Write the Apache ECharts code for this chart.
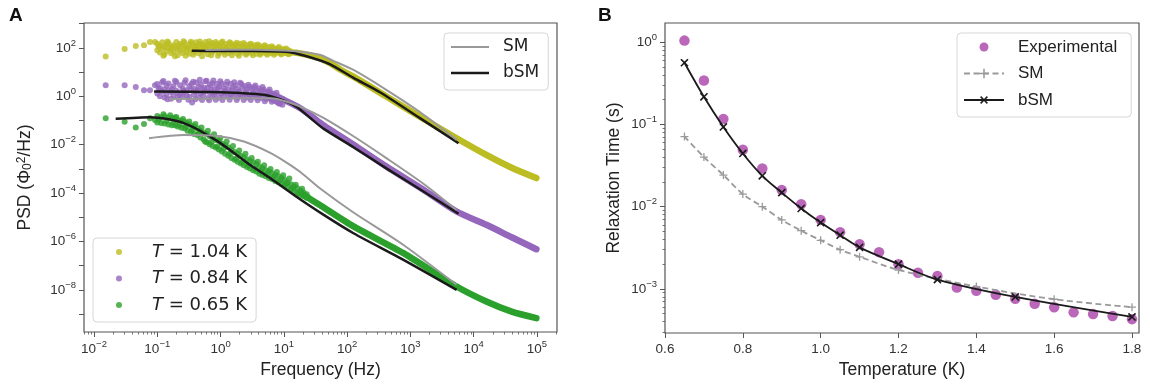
<!DOCTYPE html>
<html><head><meta charset="utf-8">
<script src="https://cdn.jsdelivr.net/npm/echarts@6/dist/echarts.min.js"></script>
<style>html,body{margin:0;padding:0;background:#fff}#c{width:1150px;height:385px}</style>
</head><body><div id="c"></div>
<script>
// ---------- Panel A data: [frequency (Hz), PSD (Phi0^2/Hz)] ----------
const yellowSparse = [[0.0153,44],[0.0305,91],[0.0457,120],[0.0617,129],[0.0767,177],[0.092,177]];
const yellowCloud = [[0.10,150],[0.10,80],[0.11,120],[0.11,65],[0.12,170],[0.12,95],[0.13,110],[0.13,55],[0.14,140],[0.14,75],[0.15,160],[0.15,100],[0.165,90],[0.165,60],[0.18,130],[0.18,70],[0.2,175],[0.2,105],[0.21,85],[0.21,50],[0.23,145],[0.23,78],[0.25,120],[0.25,62],[0.27,165],[0.27,92],[0.29,105],[0.29,70],[0.32,140],[0.32,58],[0.35,155],[0.35,85],[0.38,115],[0.38,68],[0.41,170],[0.41,95],[0.45,130],[0.45,60],[0.49,150],[0.49,82],[0.53,110],[0.53,72],[0.58,175],[0.58,98],[0.63,125],[0.63,55],[0.68,145],[0.68,88],[0.74,160],[0.74,66],[0.8,115],[0.8,78],[0.87,150],[0.87,92],[0.95,130],[0.95,60],[1.03,165],[1.03,85],[1.12,120],[1.12,70],[1.22,145],[1.22,95],[1.33,110],[1.33,62],[1.45,155],[1.45,80],[1.58,125],[1.58,68],[1.72,140],[1.72,90],[1.87,115],[1.87,58],[2.04,150],[2.04,78],[2.22,120],[2.22,64],[2.42,135],[2.42,88],[2.63,105],[2.63,60],[2.87,140],[2.87,75],[3.12,115],[3.12,62],[3.4,130],[3.4,85],[3.7,108],[3.7,58],[4.03,125],[4.03,72],[4.4,100],[4.4,60],[4.8,118],[4.8,78],[5.2,98],[5.2,62],[5.7,110],[5.7,70],[6.2,95],[6.2,60],[6.7,102],[6.7,68],[7.3,90],[7.3,62],[8.0,96],[8.0,66],[8.7,86],[8.7,60],[9.5,90],[9.5,64],[10.4,82],[10.4,62],[11.3,84],[11.3,60],[12.3,76],[12.3,58]];
const yellowCloud2 = [[0.105,115],[0.125,48],[0.145,185],[0.17,110],[0.19,45],[0.22,125],[0.26,190],[0.28,48],[0.31,100],[0.34,180],[0.37,52],[0.4,120],[0.43,90],[0.47,185],[0.51,45],[0.55,125],[0.6,95],[0.66,190],[0.71,50],[0.77,105],[0.84,175],[0.91,48],[0.99,110],[1.07,185],[1.17,52],[1.27,100],[1.39,170],[1.51,50],[1.65,105],[1.8,165],[1.95,48],[2.13,100],[2.32,160],[2.52,52],[2.75,98],[3.0,150],[3.25,50],[3.55,92],[3.85,140],[4.2,52],[4.6,88],[5.0,130],[5.45,52],[5.95,84],[6.45,118],[7.0,52],[7.65,80],[8.35,108],[9.1,54],[9.9,76],[10.8,95],[11.8,55]];
const yellowBand = [[8.7,72],[15.8,63],[25,50],[37,38],[54,23.4],[79,12.6],[126,6.5],[417,0.98],[1413,0.145],[5370,0.0186],[15850,0.0038],[39800,0.00112],[97700,0.00042]];
const yellowBSM = [[0.35,76],[1,75],[3.16,74],[8.7,71],[12.6,66],[20,50],[31.6,35],[54,21],[126,5.8],[331,1.48],[1413,0.126],[5750,0.0115]];
const yellowSM = [[0.575,83],[3.16,85],[10,79],[20,68],[37,52],[63,28],[126,12.3],[398,2.0],[1413,0.224],[5370,0.0158]];

const purpleSparse = [[0.0153,2.9],[0.0305,2.9],[0.0457,2.4],[0.0617,1.8],[0.0767,1.8],[0.092,2.9]];
const purpleCloud = [[0.10,3.2],[0.10,1.3],[0.11,2.2],[0.11,1.0],[0.12,3.8],[0.12,1.6],[0.13,1.9],[0.13,0.9],[0.14,2.8],[0.14,1.2],[0.15,3.4],[0.15,1.8],[0.165,1.5],[0.165,0.8],[0.18,2.6],[0.18,1.1],[0.2,3.9],[0.2,1.7],[0.21,1.4],[0.21,0.9],[0.23,2.9],[0.23,1.2],[0.25,2.1],[0.25,1.0],[0.27,3.6],[0.27,1.5],[0.29,1.8],[0.29,1.1],[0.32,2.7],[0.32,0.95],[0.35,3.3],[0.355,0.55],[0.38,2.0],[0.38,1.2],[0.41,3.7],[0.41,1.5],[0.45,2.4],[0.45,0.9],[0.49,3.1],[0.49,1.3],[0.53,1.9],[0.53,1.1],[0.58,4.2],[0.58,1.6],[0.63,2.3],[0.63,0.85],[0.68,3.0],[0.68,1.4],[0.74,3.5],[0.74,1.0],[0.8,2.0],[0.8,1.2],[0.87,3.2],[0.87,1.5],[0.95,2.5],[0.95,0.9],[1.03,3.4],[1.03,1.3],[1.12,2.1],[1.12,1.0],[1.22,3.0],[1.22,1.4],[1.33,1.9],[1.33,0.95],[1.45,3.3],[1.45,1.2],[1.58,2.3],[1.58,1.0],[1.72,2.8],[1.72,1.4],[1.87,2.0],[1.87,0.9],[2.04,3.6],[2.04,1.2],[2.22,2.2],[2.22,1.0],[2.42,2.7],[2.42,1.3],[2.63,1.9],[2.63,0.9],[2.87,2.5],[2.87,1.1],[3.12,2.0],[3.12,0.95],[3.4,2.4],[3.4,1.2],[3.7,1.8],[3.7,0.9],[4.03,2.1],[4.03,1.0],[4.4,1.7],[4.4,0.85],[4.8,1.9],[4.8,0.95],[5.2,1.5],[5.2,0.8],[5.7,1.6],[5.7,0.85],[6.2,1.35],[6.2,0.75],[6.7,1.3],[6.7,0.7],[7.3,1.15],[7.3,0.62],[8.0,1.0],[8.0,0.55],[8.7,0.9],[8.7,0.5],[9.5,0.8],[9.5,0.45]];
const purpleCloud2 = [[0.105,2.0],[0.125,4.3],[0.145,0.75],[0.17,2.0],[0.19,4.4],[0.22,0.7],[0.26,1.7],[0.28,4.6],[0.31,0.72],[0.34,1.9],[0.37,4.0],[0.4,0.75],[0.43,1.8],[0.47,4.8],[0.51,0.7],[0.55,2.2],[0.6,4.4],[0.66,0.68],[0.71,1.9],[0.77,4.5],[0.84,0.72],[0.91,2.0],[0.99,4.2],[1.07,0.7],[1.17,1.7],[1.27,4.0],[1.39,0.72],[1.51,1.8],[1.65,3.8],[1.8,0.7],[1.95,1.6],[2.13,3.2],[2.32,0.7],[2.52,1.5],[2.75,3.0],[3.0,0.7],[3.25,1.45],[3.55,2.8],[3.85,0.68],[4.2,1.3],[4.6,2.4],[5.0,0.62],[5.45,1.1],[5.95,1.9],[6.45,0.6],[7.0,0.95],[7.65,1.4],[8.35,0.5],[9.1,0.7]];
const purpleBand = [[6.3,1.15],[10,0.71],[18.2,0.32],[28.2,0.14],[42.7,0.063],[126,0.01],[417,1.26e-3],[1585,1.41e-4],[5370,1.74e-5],[15850,4.9e-6],[39800,1.5e-6],[97700,4.8e-7]];
const purpleBSM = [[0.089,1.58],[1,1.48],[4.9,1.15],[10,0.66],[16.2,0.355],[26.3,0.126],[42.7,0.045],[126,7.9e-3],[417,1.05e-3],[1585,1.2e-4],[5750,1.41e-5]];
const purpleSM = [[0.153,0.78],[1,0.81],[6.2,0.83],[11.2,0.6],[21,0.32],[43,0.126],[126,0.0224],[417,2.8e-3],[1585,2.5e-4],[5370,2.0e-5]];

const greenSparse = [[0.0153,0.124],[0.0305,0.089],[0.0457,0.052],[0.0617,0.072],[0.0767,0.124],[0.092,0.106]];
const greenCloud = [[0.10,0.155],[0.10,0.083],[0.115,0.138],[0.115,0.079],[0.13,0.151],[0.13,0.076],[0.15,0.132],[0.15,0.069],[0.17,0.126],[0.17,0.063],[0.19,0.132],[0.19,0.063],[0.21,0.105],[0.21,0.056],[0.24,0.1],[0.24,0.05],[0.27,0.089],[0.27,0.048],[0.3,0.076],[0.3,0.038],[0.34,0.063],[0.34,0.035],[0.38,0.056],[0.38,0.028],[0.43,0.048],[0.43,0.025],[0.48,0.038],[0.48,0.02],[0.54,0.032],[0.54,0.0166],[0.6,0.028],[0.6,0.0126],[0.67,0.0224],[0.67,0.0105],[0.75,0.02],[0.75,0.0089],[0.84,0.0158],[0.84,0.0076],[0.94,0.0141],[0.94,0.0063],[1.05,0.0112],[1.05,0.0052],[1.18,0.0095],[1.18,0.0042],[1.32,0.0079],[1.32,0.0035],[1.48,0.006],[1.48,0.0028],[1.66,0.005],[1.66,0.0024],[1.86,0.0042],[1.86,0.002],[2.08,0.0035],[2.08,0.00166],[2.33,0.003],[2.33,0.0014],[2.61,0.0025],[2.61,0.0012],[2.92,0.0021],[2.92,0.00105],[3.27,0.0019],[3.27,0.00089],[3.67,0.0016],[3.67,0.00079],[4.1,0.00126],[4.1,0.00063],[4.6,0.00107],[4.6,0.00056],[5.15,0.00089],[5.15,0.0005],[5.8,0.00079],[5.8,0.00042],[6.5,0.00066],[6.5,0.00038],[7.3,0.00056],[7.3,0.00032],[8.2,0.0005],[8.2,0.00028],[9.2,0.00042],[9.2,0.00024],[10.3,0.00035],[10.3,0.00021],[11.5,0.00028],[11.5,0.000178],[13,0.000234],[13,0.000141],[14.5,0.00019],[14.5,0.00012],[16.3,0.000158],[16.3,0.0001],[18.3,0.000126],[18.3,0.000083],[20.5,0.000107],[20.5,0.000074],[23,0.000089],[23,0.000063]];
const greenCloud2 = [[0.105,0.11],[0.125,0.18],[0.14,0.095],[0.16,0.165],[0.18,0.085],[0.2,0.14],[0.225,0.065],[0.255,0.115],[0.285,0.058],[0.32,0.09],[0.36,0.042],[0.4,0.072],[0.45,0.03],[0.5,0.052],[0.57,0.0135],[0.63,0.038],[0.71,0.0125],[0.79,0.027],[0.89,0.0085],[0.99,0.019],[1.11,0.0068],[1.25,0.0135],[1.4,0.0042],[1.57,0.0088],[1.76,0.0026],[1.97,0.0058],[2.2,0.0019],[2.47,0.0042],[2.76,0.0014],[3.1,0.0028],[3.47,0.00105],[3.88,0.002],[4.35,0.00082],[4.88,0.0014],[5.45,0.00062],[6.15,0.001],[6.9,0.00046],[7.75,0.00075],[8.7,0.00034],[9.75,0.00055],[10.9,0.00025],[12.2,0.0004],[13.7,0.00016],[15.4,0.00022],[17.3,0.000098],[19.4,0.00015],[21.7,0.000072]];
const greenBand = [[20,8.9e-5],[37,3.2e-5],[126,4.2e-6],[776,3.3e-7],[5370,1.38e-8],[15850,3.3e-9],[39800,1.26e-9],[97700,6.8e-10]];
const greenBSM = [[0.022,0.117],[0.078,0.138],[0.263,0.078],[0.89,0.0141],[2.99,1.41e-3],[6.2,4e-4],[15.8,7.1e-5],[42.7,1.26e-5],[126,2.2e-6],[776,1.74e-7],[5370,1e-8]];
const greenSM = [[0.074,0.0186],[0.263,0.025],[0.89,0.023],[2.34,0.0135],[6.2,4.5e-3],[11.2,1.78e-3],[18.6,7.1e-4],[37,1.58e-4],[126,1.58e-5],[776,7.2e-7],[5370,1.62e-8]];

// ---------- Panel B data ----------
const tempExp = [0.65,0.70,0.75,0.80,0.85,0.90,0.95,1.00,1.05,1.10,1.15,1.20,1.25,1.30,1.35,1.40,1.45,1.50,1.55,1.60,1.65,1.70,1.75,1.80];
const tauExp = [1.04,0.34,0.116,0.049,0.029,0.0159,0.0107,0.0069,0.0049,0.0035,0.0028,0.0020,0.00157,0.00144,0.00104,0.00095,0.00085,0.00076,0.00066,0.0006,0.00052,0.000495,0.00047,0.00043];
const tempSM = [0.65,0.70,0.75,0.80,0.85,0.90,0.95,1.00,1.05,1.10,1.20,1.40,1.60,1.80];
const tauSM = [0.071,0.040,0.0242,0.0142,0.0100,0.0069,0.0051,0.0039,0.0030,0.00246,0.0017,0.00107,0.00075,0.0006];
const tempBSM = [0.65,0.70,0.75,0.80,0.85,0.90,0.95,1.00,1.05,1.10,1.20,1.30,1.50,1.80];
const tauBSM = [0.56,0.216,0.093,0.0443,0.0237,0.0148,0.0095,0.0064,0.0045,0.0032,0.0020,0.0013,0.0008,0.000457];

// ---------- Tick definitions ----------
const freqTickExp = [-2,-1,0,1,2,3,4,5];
const psdTickExp = [-9,-8,-7,-6,-5,-4,-3,-2,-1,0,1,2,3];
const psdLabelExp = [-8,-6,-4,-2,0,2];
const tempTicks = [0.6,0.8,1.0,1.2,1.4,1.6,1.8];
const tauTickExp = [-3,-2,-1,0];
const legendA2 = ['T = 1.04 K','T = 0.84 K','T = 0.65 K'];

const FONT = 'Liberation Sans, Arial, Helvetica, sans-serif';
const LFONT = 'DejaVu Sans, sans-serif';
const AX = '#555';
const TXT = '#333';

const xA = [-2.158, 5.316], yA = [-9.74, 3.03];
const xB = [0.6, 1.818], yB = [-3.535, 0.231];

function minorLog(lo, hi, range){
  const out = [];
  for (let n = lo; n <= hi; n++) for (let k = 2; k <= 9; k++) {
    const v = n + Math.log10(k);
    if (v >= range[0] && v <= range[1]) out.push(v);
  }
  return out;
}
const toLog = a => a.map(p => [Math.log10(p[0]), Math.log10(p[1])]);
const zipLog = (xs, ys) => xs.map((x,i) => [x, Math.log10(ys[i])]);
function powLabel(v){
  const n = Math.round(v);
  return '{b|10}{s|' + (n < 0 ? '\u2212' + (-n) : String(n)) + '}';
}
const powRich = {
  b: {fontSize: 13.5, fontFamily: FONT, color: TXT, lineHeight: 20},
  s: {fontSize: 9.5, fontFamily: FONT, color: TXT, verticalAlign: 'top', lineHeight: 11}
};
const plusPath = 'path://M4.2,0H5.8V4.2H10V5.8H5.8V10H4.2V5.8H0V4.2H4.2Z';
const dotIcon = 'path://M0,0M12,12M1.5,6A4.5,4.5 0 1 0 10.5,6A4.5,4.5 0 1 0 1.5,6Z';
const smallDotIcon = 'path://M0,0M36,6M15,3A3,3 0 1 0 21,3A3,3 0 1 0 15,3Z';
const lineIconGray = 'path://M0,0M38,14M0,6H38V8H0Z';
const lineIconBlack = 'path://M0,0M38,14M0,5.75H38V8.25H0Z';

const C_Y = '#bcbd22', C_P = '#9467bd', C_G = '#2ca02c';

function cloud(name, color, pts){
  return {type:'scatter', name, xAxisIndex:0, yAxisIndex:0, symbolSize:6, itemStyle:{color}, data: toLog(pts), z:2};
}
function band(name, color, pts){
  return {type:'line', name, xAxisIndex:0, yAxisIndex:0, showSymbol:false, symbol:'none', smooth:0.25,
    lineStyle:{color, width:6.5, cap:'round', join:'round'}, itemStyle:{color}, data: toLog(pts), z:2};
}
function model(name, color, width, pts, z){
  return {type:'line', name, xAxisIndex:0, yAxisIndex:0, showSymbol:false, symbol:'none', smooth:0.25,
    lineStyle:{color, width, cap:'butt'}, itemStyle:{color}, data: toLog(pts), z};
}
const noLine = {show:false, onZero:false};

const option = {
  animation: false,
  backgroundColor: '#fff',
  title: [
    {text:'A', left:9, top:6, padding:0, textStyle:{fontSize:19, fontWeight:'bold', fontFamily:FONT, color:'#111'}},
    {text:'B', left:598, top:6, padding:0, textStyle:{fontSize:19, fontWeight:'bold', fontFamily:FONT, color:'#111'}}
  ],
  grid: [
    {left:84, top:23, width:473, height:309, show:true, borderColor:AX, borderWidth:1.2, backgroundColor:'transparent'},
    {left:665, top:23, width:474, height:310, show:true, borderColor:AX, borderWidth:1.2, backgroundColor:'transparent'}
  ],
  xAxis: [
    {gridIndex:0, type:'value', min:xA[0], max:xA[1], position:'bottom',
     axisLine:noLine, splitLine:{show:false},
     axisTick:{customValues:freqTickExp, length:5, lineStyle:{color:AX, width:1}},
     axisLabel:{customValues:freqTickExp, formatter:powLabel, rich:powRich, margin:7},
     name:'Frequency (Hz)', nameLocation:'middle', nameGap:27,
     nameTextStyle:{fontSize:17.5, fontFamily:FONT, color:'#222'}},
    {gridIndex:0, type:'value', min:xA[0], max:xA[1], position:'bottom',
     axisLine:noLine, splitLine:{show:false}, axisLabel:{show:false},
     axisTick:{customValues:minorLog(-3,5,xA), length:2.5, lineStyle:{color:AX, width:0.8}}},
    {gridIndex:1, type:'value', min:xB[0], max:xB[1], position:'bottom',
     axisLine:noLine, splitLine:{show:false},
     axisTick:{customValues:tempTicks, length:5, lineStyle:{color:AX, width:1}},
     axisLabel:{customValues:tempTicks, formatter:v => v.toFixed(1), fontSize:13.5, fontFamily:FONT, color:TXT, margin:9},
     name:'Temperature (K)', nameLocation:'middle', nameGap:27,
     nameTextStyle:{fontSize:17.5, fontFamily:FONT, color:'#222'}}
  ],
  yAxis: [
    {gridIndex:0, type:'value', min:yA[0], max:yA[1], position:'left',
     axisLine:noLine, splitLine:{show:false},
     axisTick:{customValues:psdTickExp, length:5, lineStyle:{color:AX, width:1}},
     axisLabel:{customValues:psdLabelExp, formatter:powLabel, rich:powRich, margin:8},
     name:'PSD (\u03a6{sub|0}{sup|2}/Hz)', nameLocation:'middle', nameGap:50, nameRotate:90,
     nameTextStyle:{fontSize:17.5, fontFamily:FONT, color:'#222',
       rich:{sub:{fontSize:12, fontFamily:FONT, color:'#222', verticalAlign:'bottom', lineHeight:14},
             sup:{fontSize:12, fontFamily:FONT, color:'#222', verticalAlign:'top', lineHeight:14}}}},
    {gridIndex:1, type:'value', min:yB[0], max:yB[1], position:'left',
     axisLine:noLine, splitLine:{show:false},
     axisTick:{customValues:tauTickExp, length:5, lineStyle:{color:AX, width:1}},
     axisLabel:{customValues:tauTickExp, formatter:powLabel, rich:powRich, margin:8},
     name:'Relaxation Time (s)', nameLocation:'middle', nameGap:42, nameRotate:90,
     nameTextStyle:{fontSize:17.5, fontFamily:FONT, color:'#222'}},
    {gridIndex:1, type:'value', min:yB[0], max:yB[1], position:'left',
     axisLine:noLine, splitLine:{show:false}, axisLabel:{show:false},
     axisTick:{customValues:minorLog(-4,0,yB), length:2.5, lineStyle:{color:AX, width:0.8}}}
  ],
  legend: [
    {data:[{name:'SM', icon:lineIconGray},{name:'bSM', icon:lineIconBlack}], left:444, top:33, orient:'vertical', selectedMode:false,
     itemWidth:38, itemHeight:14, itemGap:6, padding:[4,9,7,7],
     backgroundColor:'#fff', borderColor:'#d6d6d6', borderWidth:1, borderRadius:4,
     textStyle:{fontSize:17, fontFamily:LFONT, color:'#222', lineHeight:20, padding:[0,0,0,9]}},
    {data:legendA2.map(n => ({name:n, icon:smallDotIcon})), left:93, top:238, orient:'vertical', selectedMode:false,
     itemWidth:36, itemHeight:6, itemGap:6.5, padding:[4,9,7,8],
     backgroundColor:'#fff', borderColor:'#d6d6d6', borderWidth:1, borderRadius:4,
     formatter: n => '{i|T}' + n.slice(1),
     textStyle:{fontSize:18, fontFamily:LFONT, color:'#222', lineHeight:20, padding:[0,0,0,10],
       rich:{i:{fontSize:18, fontFamily:LFONT, fontStyle:'italic', color:'#222', lineHeight:20}}}},
    {data:[{name:'Experimental', icon:dotIcon},'SM ','bSM '], left:957, top:33, orient:'vertical', selectedMode:false,
     itemWidth:40, itemHeight:12, itemGap:6.5, padding:[4,14,7,6],
     backgroundColor:'#fff', borderColor:'#d6d6d6', borderWidth:1, borderRadius:4,
     textStyle:{fontSize:17, fontFamily:FONT, color:'#222', lineHeight:20, padding:[0,0,0,9]}}
  ],
  series: [
    cloud(legendA2[0], C_Y, yellowSparse.concat(yellowCloud, yellowCloud2)),
    cloud(legendA2[1], C_P, purpleSparse.concat(purpleCloud, purpleCloud2)),
    cloud(legendA2[2], C_G, greenSparse.concat(greenCloud, greenCloud2)),
    band(legendA2[0], C_Y, yellowBand),
    band(legendA2[1], C_P, purpleBand),
    band(legendA2[2], C_G, greenBand),
    model('bSM', '#1a1a1a', 2.5, yellowBSM, 4),
    model('bSM', '#1a1a1a', 2.5, purpleBSM, 4),
    model('bSM', '#1a1a1a', 2.5, greenBSM, 4),
    model('SM', '#999999', 2, yellowSM, 5),
    model('SM', '#999999', 2, purpleSM, 5),
    model('SM', '#999999', 2, greenSM, 5),
    {type:'scatter', name:'Experimental', xAxisIndex:2, yAxisIndex:1, symbol:'circle', symbolSize:10.5,
     itemStyle:{color:'#a940a8'}, data: zipLog(tempExp, tauExp), z:2},
    {type:'line', name:'SM ', xAxisIndex:2, yAxisIndex:1, smooth:0.3,
     symbol:plusPath, symbolSize:8, showSymbol:true,
     lineStyle:{color:'#9a9a9a', width:1.8, type:[6,3.5]}, itemStyle:{color:'#9a9a9a'},
     data: zipLog(tempSM, tauSM), z:3},
    {type:'line', name:'bSM ', xAxisIndex:2, yAxisIndex:1, smooth:0.3,
     symbol:plusPath, symbolRotate:45, symbolSize:10, showSymbol:true,
     lineStyle:{color:'#1a1a1a', width:1.8}, itemStyle:{color:'#1a1a1a'},
     data: zipLog(tempBSM, tauBSM), z:4}
  ]
};
const chart = echarts.init(document.getElementById('c'), null, {renderer:'canvas'});
chart.setOption(option);
</script></body></html>
